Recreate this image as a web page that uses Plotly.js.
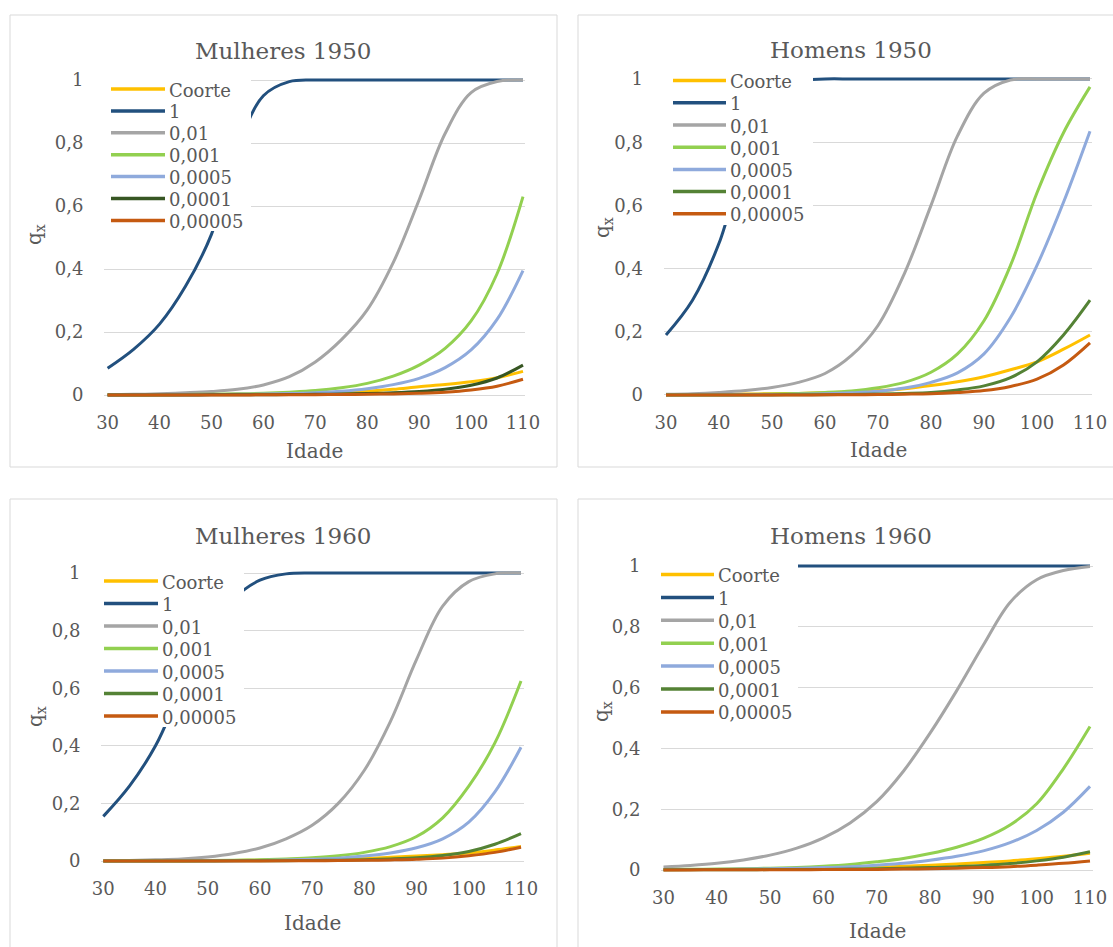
<!DOCTYPE html>
<html><head><meta charset="utf-8">
<script src="https://cdn.plot.ly/plotly-3.0.1.min.js"></script>
<style>html,body{margin:0;padding:0;background:#fff;}#chart{width:1113px;height:947px;}</style>
</head><body><div id="chart"></div>
<script>
// ---------- DATA ----------
const ages = [30,35,40,45,50,55,60,65,70,75,80,85,90,95,100,105,110];
const seriesNames = ['Coorte','1','0,01','0,001','0,0005','0,0001','0,00005'];
const xTickVals = [30,40,50,60,70,80,90,100,110];
const yTickVals = [0,0.2,0.4,0.6,0.8,1];
const panelTitles = ['Mulheres 1950','Homens 1950','Mulheres 1960','Homens 1960'];

// Mulheres 1950
const m1950_coorte = [0.0005,0.0007,0.001,0.0013,0.0017,0.0023,0.003,0.004,0.0055,0.0078,0.012,0.018,0.026,0.033,0.042,0.055,0.075];
const m1950_1      = [0.085,0.145,0.225,0.345,0.51,0.78,0.95,0.995,1,1,1,1,1,1,1,1,1];
const m1950_01     = [0.001,0.002,0.004,0.007,0.011,0.018,0.032,0.058,0.105,0.175,0.27,0.42,0.62,0.83,0.96,0.995,1];
const m1950_001    = [0.0005,0.0008,0.0012,0.0017,0.0025,0.0037,0.0055,0.009,0.014,0.023,0.037,0.06,0.095,0.148,0.235,0.385,0.63];
const m1950_0005   = [0.0003,0.0004,0.0006,0.0009,0.0013,0.002,0.003,0.0047,0.0075,0.012,0.02,0.033,0.053,0.087,0.143,0.24,0.395];
const m1950_0001   = [0.0001,0.00015,0.0002,0.0003,0.0004,0.0006,0.0009,0.0013,0.002,0.003,0.0045,0.007,0.011,0.018,0.031,0.054,0.095];
const m1950_00005  = [0.00005,0.00008,0.0001,0.00015,0.0002,0.0003,0.0005,0.0007,0.001,0.0015,0.0023,0.0035,0.0055,0.009,0.016,0.028,0.05];

// Homens 1950
const h1950_coorte = [0.001,0.0015,0.002,0.003,0.004,0.005,0.007,0.01,0.014,0.02,0.03,0.042,0.058,0.08,0.105,0.145,0.19];
const h1950_1      = [0.19,0.30,0.48,0.75,0.92,0.99,1,1,1,1,1,1,1,1,1,1,1];
const h1950_01     = [0.002,0.004,0.008,0.014,0.024,0.04,0.068,0.125,0.22,0.385,0.6,0.82,0.955,0.997,1,1,1];
const h1950_001    = [0.0005,0.0007,0.001,0.0015,0.003,0.005,0.008,0.013,0.023,0.04,0.072,0.13,0.235,0.41,0.64,0.83,0.975];
const h1950_0005   = [0.0003,0.0005,0.0007,0.001,0.0015,0.0025,0.004,0.007,0.012,0.022,0.04,0.07,0.13,0.245,0.41,0.61,0.835];
const h1950_0001   = [0.0001,0.0001,0.0002,0.0003,0.0004,0.0006,0.001,0.0017,0.003,0.005,0.008,0.016,0.029,0.055,0.105,0.19,0.30];
const h1950_00005  = [0.00005,0.0001,0.0001,0.0001,0.0002,0.0003,0.0005,0.0008,0.0015,0.0025,0.004,0.008,0.014,0.027,0.05,0.095,0.165];

// Mulheres 1960
const m1960_coorte = [0.0005,0.0007,0.001,0.0012,0.0015,0.002,0.003,0.004,0.005,0.007,0.009,0.013,0.017,0.022,0.028,0.038,0.05];
const m1960_1      = [0.155,0.26,0.40,0.6,0.78,0.91,0.975,0.997,1,1,1,1,1,1,1,1,1];
const m1960_01     = [0.001,0.002,0.004,0.007,0.014,0.026,0.045,0.077,0.124,0.2,0.315,0.485,0.70,0.885,0.97,0.997,1];
const m1960_001    = [0.0003,0.0005,0.0008,0.001,0.0015,0.0025,0.004,0.007,0.011,0.018,0.03,0.05,0.085,0.15,0.26,0.41,0.625];
const m1960_0005   = [0.0002,0.0003,0.0004,0.0006,0.0008,0.0012,0.002,0.0035,0.006,0.01,0.017,0.028,0.046,0.077,0.135,0.24,0.395];
const m1960_0001   = [0.0001,0.0001,0.0002,0.0003,0.0004,0.0005,0.0008,0.0012,0.002,0.003,0.0045,0.007,0.011,0.019,0.033,0.058,0.095];
const m1960_00005  = [0.00005,0.0001,0.0001,0.0001,0.0002,0.0003,0.0004,0.0006,0.001,0.0015,0.0023,0.0038,0.006,0.01,0.018,0.03,0.048];

// Homens 1960
const h1960_coorte = [0.001,0.0015,0.002,0.003,0.004,0.005,0.006,0.0075,0.009,0.012,0.016,0.02,0.025,0.03,0.037,0.045,0.055];
const h1960_1      = [0.55,0.78,0.92,0.98,0.998,1,1,1,1,1,1,1,1,1,1,1,1];
const h1960_01     = [0.01,0.015,0.022,0.033,0.049,0.072,0.106,0.155,0.225,0.325,0.45,0.59,0.74,0.88,0.955,0.985,0.998];
const h1960_001    = [0.002,0.0025,0.003,0.004,0.006,0.008,0.012,0.018,0.027,0.038,0.054,0.075,0.104,0.148,0.218,0.333,0.472];
const h1960_0005   = [0.001,0.0015,0.002,0.003,0.004,0.006,0.008,0.011,0.016,0.022,0.032,0.045,0.063,0.09,0.13,0.19,0.275];
const h1960_0001   = [0.0005,0.0006,0.0008,0.001,0.0013,0.0016,0.002,0.003,0.004,0.006,0.008,0.011,0.015,0.021,0.03,0.042,0.06];
const h1960_00005  = [0.0003,0.0004,0.0005,0.0006,0.0008,0.001,0.0013,0.0017,0.002,0.003,0.004,0.006,0.008,0.011,0.016,0.022,0.03];

// ---------- STYLE / LAYOUT ----------
const W = 1113, H = 947;
const FONT = 'DejaVu Serif, Liberation Serif, serif';
const TXT = '#595959';
const baseColors = ['#FFC000','#22507E','#A5A5A5','#92D050','#8FAADC',null,'#C55A11'];

// legend geometry: box [l,t,r,b], line [x0,x1], text x, first row y, row step
const panels = [
  {data:[m1950_coorte,m1950_1,m1950_01,m1950_001,m1950_0005,m1950_0001,m1950_00005], dg:'#375623',
   box:[10,15,557,467], grid:[104,525], px:[107.6,523], py:[395,80], tXY:[283,51], xtXY:[314,451], ytXY:[35,235],
   lg:{box:[104,76,251,231], line:[111,165], tx:168, y0:89, dy:21.9}},
  {data:[h1950_coorte,h1950_1,h1950_01,h1950_001,h1950_0005,h1950_0001,h1950_00005], dg:'#548235',
   box:[578,15,1125,467], grid:[663.5,1092], px:[666,1090], py:[395,79], tXY:[851,50], xtXY:[878,450], ytXY:[603,228],
   lg:{box:[664,69,813,225], line:[673,726], tx:729, y0:80.6, dy:22.2}},
  {data:[m1960_coorte,m1960_1,m1960_01,m1960_001,m1960_0005,m1960_0001,m1960_00005], dg:'#548235',
   box:[10,499,557,960], grid:[101,524], px:[103.3,521], py:[861,573], tXY:[283,536], xtXY:[312,923], ytXY:[36,717],
   lg:{box:[101,569,244,727], line:[104,158], tx:161, y0:581, dy:22.5}},
  {data:[h1960_coorte,h1960_1,h1960_01,h1960_001,h1960_0005,h1960_0001,h1960_00005], dg:'#548235',
   box:[578,499,1125,960], grid:[661,1093], px:[663.5,1090], py:[870,566], tXY:[851,536], xtXY:[877,931], ytXY:[602,712],
   lg:{box:[658,562,798,723], line:[661,714], tx:717, y0:574.5, dy:22.9}}
];

const traces = [];
const layout = {
  width: W, height: H, margin:{l:0,r:0,t:0,b:0,pad:0},
  paper_bgcolor:'#fff', plot_bgcolor:'rgba(0,0,0,0)',
  separators: ', ', showlegend:false,
  font:{family:FONT, color:TXT, size:18},
  annotations:[], shapes:[]
};
const YL = -0.012, YH = 1.012;
const px2x = v => v/W, py2y = v => 1 - v/H;

panels.forEach((p,i)=>{
  const n = i===0 ? '' : String(i+1);
  const xa = 'xaxis'+n, ya = 'yaxis'+n;
  const ppu = (p.px[1]-p.px[0])/80;
  const xr = [30-(p.px[0]-p.grid[0])/ppu, 110+(p.grid[1]-p.px[1])/ppu];
  const ypu = p.py[0]-p.py[1];
  const yBot = p.py[0] - YL*ypu, yTop = p.py[0] - YH*ypu;
  layout[xa] = {domain:[px2x(p.grid[0]), px2x(p.grid[1])], range:xr, anchor:'y'+n,
    tickvals:xTickVals, showgrid:false, zeroline:false, showline:false,
    ticks:'outside', ticklen:8, tickcolor:'rgba(0,0,0,0)',
    tickfont:{family:FONT,size:18,color:TXT}, fixedrange:true};
  layout[ya] = {domain:[py2y(yBot), py2y(yTop)], range:[YL,YH], anchor:'x'+n,
    tickvals:yTickVals, showgrid:true, gridcolor:'#D9D9D9', gridwidth:1, zeroline:false, showline:false,
    ticks:'outside', ticklen:16, tickcolor:'rgba(0,0,0,0)',
    tickfont:{family:FONT,size:18,color:TXT}, fixedrange:true};

  const colors = baseColors.map((c,k)=> k===5 ? p.dg : c);
  p.data.forEach((vals,k)=>{
    traces.push({x:ages, y:vals, type:'scatter', mode:'lines', name:seriesNames[k],
      xaxis:'x'+n, yaxis:'y'+n,
      line:{color: colors[k], width:3, shape:'spline', smoothing:1},
      hoverinfo:'skip'});
  });

  // panel border
  layout.shapes.push({type:'rect', xref:'paper', yref:'paper',
    x0:px2x(p.box[0]), x1:px2x(p.box[2]), y0:py2y(p.box[3]), y1:py2y(p.box[1]),
    line:{color:'#D9D9D9', width:1}, fillcolor:'rgba(0,0,0,0)', layer:'below'});

  // legend (opaque box over the plot, as in the original)
  const L = p.lg;
  layout.shapes.push({type:'rect', xref:'paper', yref:'paper', layer:'above',
    x0:px2x(L.box[0]), x1:px2x(L.box[2]), y0:py2y(L.box[3]), y1:py2y(L.box[1]),
    line:{width:0}, fillcolor:'#ffffff'});
  seriesNames.forEach((nm,k)=>{
    const yy = L.y0 + k*L.dy;
    layout.shapes.push({type:'line', xref:'paper', yref:'paper', layer:'above',
      x0:px2x(L.line[0]), x1:px2x(L.line[1]), y0:py2y(yy), y1:py2y(yy),
      line:{color:colors[k], width:3.5}});
    layout.annotations.push({text:nm, xref:'paper', yref:'paper',
      x:px2x(L.tx), y:py2y(yy+1), xanchor:'left', yanchor:'middle', showarrow:false, borderpad:0,
      font:{family:FONT,size:18,color:TXT}});
  });

  layout.annotations.push({text:panelTitles[i], xref:'paper', yref:'paper',
    x:px2x(p.tXY[0]), y:py2y(p.tXY[1]), xanchor:'center', yanchor:'middle', showarrow:false,
    font:{family:FONT,size:23,color:TXT}});
  layout.annotations.push({text:'Idade', xref:'paper', yref:'paper',
    x:px2x(p.xtXY[0]), y:py2y(p.xtXY[1]), xanchor:'center', yanchor:'middle', showarrow:false,
    font:{family:FONT,size:20,color:TXT}});
  layout.annotations.push({text:'q<sub>x</sub>', xref:'paper', yref:'paper', textangle:-90,
    x:px2x(p.ytXY[0]), y:py2y(p.ytXY[1]), xanchor:'center', yanchor:'middle', showarrow:false,
    font:{family:FONT,size:20,color:TXT}});
});

Plotly.newPlot('chart', traces, layout, {displayModeBar:false, staticPlot:true});
</script></body></html>
